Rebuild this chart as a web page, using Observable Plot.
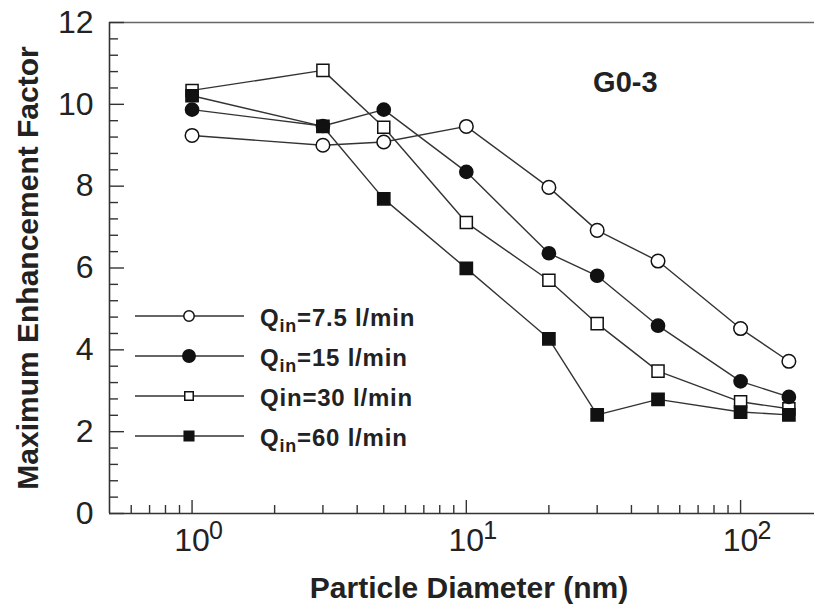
<!DOCTYPE html>
<html>
<head>
<meta charset="utf-8">
<script src="https://cdn.jsdelivr.net/npm/d3@7"></script>
<script src="https://cdn.jsdelivr.net/npm/@observablehq/plot@0.6"></script>
<style>
  html, body { margin: 0; padding: 0; background: #fff; }
  #wrap { position: relative; width: 814px; height: 605px; overflow: hidden; }
  #legend { position: absolute; left: 0; top: 0; pointer-events: none; }
</style>
</head>
<body>
<div id="wrap"></div>
<script>
// ---- data ----
const diameters = [1, 3, 5, 10, 20, 30, 50, 100, 150];          // nm
const q7_5 = [9.24, 9.00, 9.08, 9.46, 7.97, 6.92, 6.17, 4.52, 3.72];
const q15  = [9.87, 9.47, 9.87, 8.35, 6.36, 5.81, 4.59, 3.23, 2.85];
const q30  = [10.34, 10.83, 9.44, 7.11, 5.70, 4.64, 3.48, 2.73, 2.56];
const q60  = [10.21, 9.46, 7.69, 5.99, 4.27, 2.41, 2.79, 2.48, 2.41];

const seriesNames  = ["Qin=7.5 l/min", "Qin=15 l/min", "Qin=30 l/min", "Qin=60 l/min"];
const legendMain   = ["Q", "Q", "Qin", "Q"];
const legendSub    = ["in", "in", "", "in"];
const legendRest   = ["=7.5 l/min", "=15 l/min", "=30 l/min", "=60 l/min"];

const xMajorTicks = [1, 10, 100];
const xTickBase = ["10", "10", "10"];
const xTickExp  = ["0", "1", "2"];
const xMinorTicks = [0.6, 0.7, 0.8, 0.9, 2, 3, 4, 5, 6, 7, 8, 9, 20, 30, 40, 50, 60, 70, 80, 90];
const yMajorTicks = [0, 2, 4, 6, 8, 10, 12];
const yMinorStep = 0.4;

const annotationText = ["G0-3"];
const annotationX = [38];
const annotationY = [10.52];

// ---- build table ----
const allSeries = [q7_5, q15, q30, q60];
const rows = [];
allSeries.forEach((vals, s) => vals.forEach((v, i) => rows.push({series: seriesNames[s], d: diameters[i], f: v})));

// styles per series (open/filled circle/square)
const symStyle = [
  {symbol: "circle", fill: "white", r: 6.8},
  {symbol: "circle", fill: "#111", r: 6.6},
  {symbol: "square", fill: "white", r: 6.8},
  {symbol: "square", fill: "#111", r: 6.9}
];
const drawOrder = [0, 2, 3, 1];

const W = 814, H = 605, mL = 109, mR = 0, mT = 22, mB = 92;
const fw = W - mL - mR, fh = H - mT - mB;
const yMinorTicks = d3.range(0, 12 + 1e-9, yMinorStep).map(v => +v.toFixed(2)).filter(v => Math.abs(v / 2 - Math.round(v / 2)) > 1e-6);

const tickFont = "'Liberation Sans Narrow', 'Arial Narrow', 'Liberation Sans', Arial, sans-serif";
const boldFont = "'Liberation Sans', Arial, Helvetica, sans-serif";
const ink = "#222";
const axisInk = "#333";

const dotMarks = drawOrder.map(s => Plot.dot(rows.filter(r => r.series === seriesNames[s]), {
  x: "d", y: "f", symbol: symStyle[s].symbol, r: symStyle[s].r,
  fill: symStyle[s].fill, stroke: "#111", strokeWidth: 1.5
}));

const chart = Plot.plot({
  width: W, height: H,
  marginLeft: mL, marginRight: mR, marginTop: mT, marginBottom: mB,
  style: {background: "white", fontFamily: boldFont, overflow: "visible"},
  x: {type: "log", domain: [0.5, 186], axis: null},
  y: {domain: [0, 12], axis: null},
  marks: [
    // frame lines
    Plot.ruleY([12], {stroke: "#666", strokeWidth: 1.6}),
    Plot.ruleY([0], {stroke: axisInk, strokeWidth: 1.6}),
    Plot.ruleX([0.5], {stroke: axisInk, strokeWidth: 1.6}),
    // inward ticks
    Plot.tickY(yMajorTicks, {y: d => d, insetRight: fw - 15, stroke: axisInk, strokeWidth: 1.4}),
    Plot.tickY(yMinorTicks, {y: d => d, insetRight: fw - 9, stroke: axisInk, strokeWidth: 1.4}),
    Plot.tickX(xMajorTicks, {x: d => d, insetTop: fh - 13, stroke: axisInk, strokeWidth: 1.4}),
    Plot.tickX(xMinorTicks, {x: d => d, insetTop: fh - 8, stroke: axisInk, strokeWidth: 1.4}),
    // tick labels
    Plot.text(yMajorTicks, {y: d => d, text: d => String(d), frameAnchor: "left", textAnchor: "end", dx: -16,
      fontSize: 32, fontFamily: tickFont, fill: ink}),
    Plot.text(xMajorTicks, {x: d => d, text: (d, i) => xTickBase[i], frameAnchor: "bottom", lineAnchor: "top", dy: 15,
      fontSize: 32, fontFamily: tickFont, fill: ink}),
    Plot.text(xMajorTicks, {x: d => d, text: (d, i) => xTickExp[i], frameAnchor: "bottom", lineAnchor: "top", textAnchor: "start",
      dx: 17, dy: 8, fontSize: 25, fontFamily: tickFont, fill: ink}),
    // axis titles
    Plot.text(["Maximum Enhancement Factor"], {frameAnchor: "left", textAnchor: "middle", rotate: -90, lineAnchor: "bottom", dx: -72,
      fontSize: 30, fontWeight: "bold", fontFamily: boldFont, fill: ink}),
    Plot.text(["Particle Diameter (nm)"], {frameAnchor: "bottom", textAnchor: "middle", lineAnchor: "bottom", dx: 7, dy: 84,
      fontSize: 30, fontWeight: "bold", fontFamily: boldFont, fill: ink}),
    // annotation
    Plot.text(annotationText, {x: (d, i) => annotationX[i], y: (d, i) => annotationY[i], text: d => d,
      fontSize: 29, fontWeight: "bold", fontFamily: boldFont, fill: ink}),
    // data
    Plot.line(rows, {x: "d", y: "f", z: "series", stroke: "#333", strokeWidth: 1.4}),
    ...dotMarks
  ]
});

const wrap = document.getElementById("wrap");
wrap.appendChild(chart);

// ---- legend overlay ----
const leg = d3.select(wrap).append("svg").attr("id", "legend").attr("width", W).attr("height", H);
const legX0 = 135, legX1 = 244, legMarkX = 189, legTextX = 260, legY0 = 316, legDY = 40;
const legSym = [
  {symbol: d3.symbolCircle, fill: "white", size: 5.2},
  {symbol: d3.symbolCircle, fill: "#111", size: 6.2},
  {symbol: d3.symbolSquare, fill: "white", size: 4.8},
  {symbol: d3.symbolSquare, fill: "#111", size: 5.4}
];
seriesNames.forEach((name, i) => {
  const y = legY0 + i * legDY;
  const g = leg.append("g");
  g.append("line").attr("x1", legX0).attr("x2", legX1).attr("y1", y).attr("y2", y)
    .attr("stroke", "#333").attr("stroke-width", 1.4);
  const s = legSym[i];
  g.append("path").attr("transform", `translate(${legMarkX},${y})`)
    .attr("d", d3.symbol(s.symbol, s.size * s.size * Math.PI)())
    .attr("fill", s.fill).attr("stroke", "#111").attr("stroke-width", 1.5);
  const t = g.append("text").attr("x", legTextX).attr("y", y + 10)
    .attr("font-family", boldFont).attr("font-size", 24).attr("font-weight", "bold")
    .attr("letter-spacing", 0.8).attr("fill", ink);
  t.append("tspan").text(legendMain[i]);
  if (legendSub[i]) {
    t.append("tspan").attr("dy", 6).attr("font-size", 18).text(legendSub[i]);
    t.append("tspan").attr("dy", -6).text(legendRest[i]);
  } else {
    t.append("tspan").text(legendRest[i]);
  }
});
</script>
</body>
</html>
